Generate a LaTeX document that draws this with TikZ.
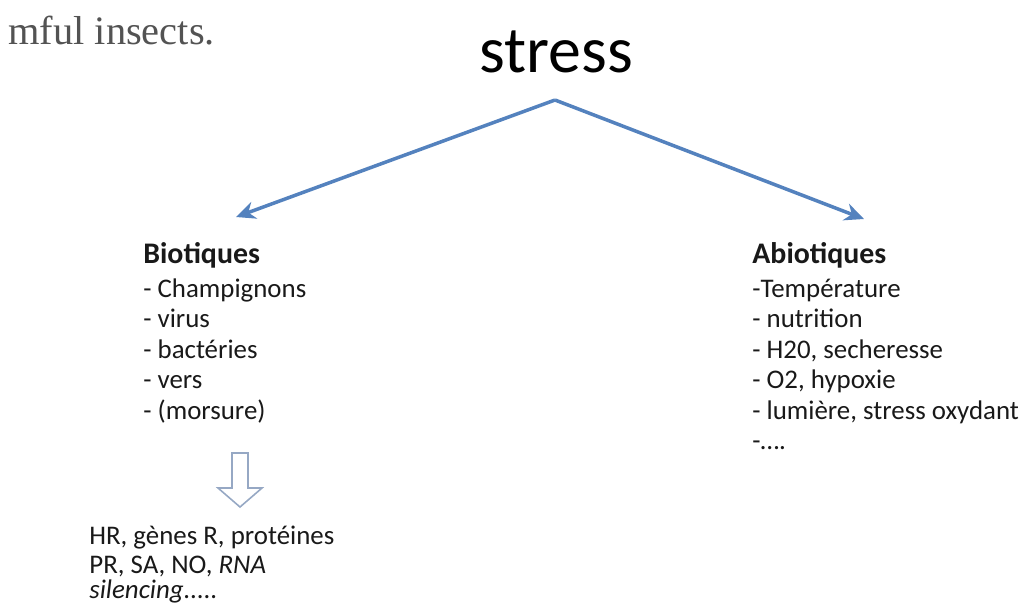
\documentclass[tikz,border=0pt]{standalone}
\usepackage{fontspec}
\setmainfont{Carlito}
\newfontfamily\serifbody{Liberation Serif}
\usetikzlibrary{arrows.meta}

\definecolor{officeblue}{RGB}{84,130,190}
\definecolor{hollowblue}{RGB}{150,168,196}
\definecolor{textgray}{RGB}{25,25,25}

\tikzset{
    item/.style={anchor=base west, inner sep=0pt, text=textgray, font=\fontsize{15.3}{18}\selectfont},
    heading/.style={anchor=base west, inner sep=0pt, text=textgray, font=\fontsize{17}{20}\selectfont\bfseries},
    branch/.style={officeblue, line width=2pt, -{Stealth[length=11pt, width=10pt]}}
}

\begin{document}
\begin{tikzpicture}[x=0.02cm, y=-0.02cm]
    \useasboundingbox (0,0) rectangle (1024,606);
    % caption fragment and title
    \node[anchor=base west, inner sep=0pt, text=textgray!75, font=\serifbody\fontsize{23}{28}\selectfont] (insects) at (8,44) {mful insects.};
    \node[anchor=base, inner sep=0pt, text=black, font=\fontsize{37.5}{44}\selectfont] (stress) at (556,72) {stress};

    \coordinate (apex) at (555,100);
    \coordinate (tipL) at (236,217);
    \coordinate (tipR) at (864,219);
    \draw[branch] (apex) -- (tipL);
    \draw[branch] (apex) -- (tipR);

    % biotic side
    \node[heading] (bio) at (143,263) {Biotiques};
    \foreach \txt [count=\i] in {- Champignons, - virus, - bact\'eries, - vers, - (morsure)}
        \node[item] (b\i) at (143,297+30.5*\i-30.5) {\txt};

    % hollow arrow
    \draw[hollowblue, line width=0.9pt, fill=white, line join=miter]
        (232,453) -- (248,453) -- (248,488) -- (262,488) -- (240,507)
        -- (218,488) -- (232,488) -- cycle;
    \coordinate (hollow) at (240,507);

    \node[item] (r1) at (89,544) {HR, g\`enes R, prot\'eines};
    \node[item] (r2) at (89,573) {PR, SA, NO, \textit{RNA}};
    \node[item] (r3) at (89,598) {\textit{silencing.....}};

    % abiotic side
    \node[heading] (abio) at (752,263) {Abiotiques};
    \foreach \txt [count=\i] in {{-Temp\'erature}, {- nutrition}, {- H20, secheresse}, {- O2, hypoxie}, {- lumi\`ere, stress oxydant}, {-\dots.}}
        \node[item] (a\i) at (752,297+30.5*\i-30.5) {\txt};

\end{tikzpicture}
\end{document}
